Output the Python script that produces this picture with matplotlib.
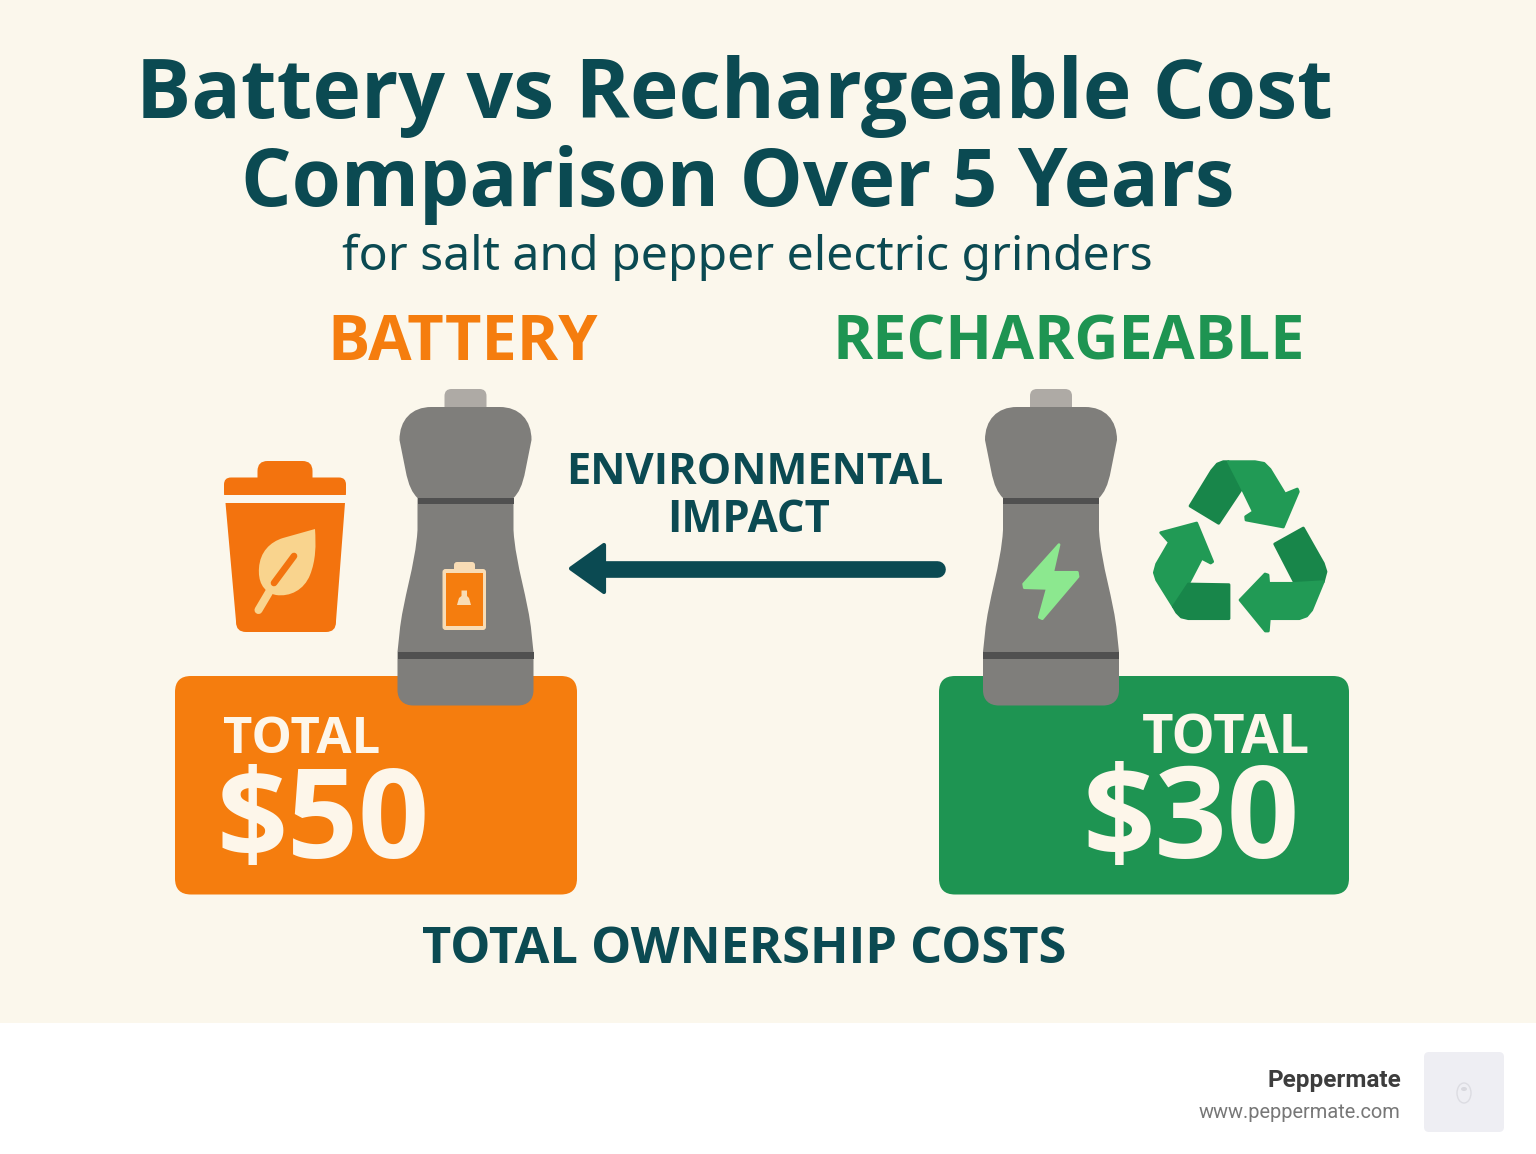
import matplotlib
matplotlib.use("Agg")
import matplotlib.pyplot as plt
from matplotlib.patches import FancyBboxPatch, Polygon, PathPatch, Rectangle, Ellipse
from matplotlib.path import Path

# ---- chart content ----
title_lines = ["Battery vs Rechargeable Cost", "Comparison Over 5 Years"]
subtitle = "for salt and pepper electric grinders"
categories = ["BATTERY", "RECHARGEABLE"]
totals = [50, 30]
arrow_label = ["ENVIRONMENTAL", "IMPACT"]
footer_label = "TOTAL OWNERSHIP COSTS"
brand = "Peppermate"
url = "www.peppermate.com"

# ---- colours ----
BG = "#fbf7ec"; TEAL = "#0b4a52"; ORANGE = "#f57d0e"; ORANGE2 = "#f3730e"
GREEN = "#1e9452"; GLIGHT = "#219a55"; GDARK = "#18864a"
BODY = "#7f7e7b"; BAND = "#505050"; CAP = "#aeaaa5"; CREAM = "#f9d48e"

W, H = 1536, 1154
fig = plt.figure(figsize=(W / 100, H / 100), dpi=100, facecolor="white")
ax = fig.add_axes([0, 0, 1, 1])
ax.set_xlim(0, W); ax.set_ylim(H, 0); ax.axis("off")
renderer = fig.canvas.get_renderer()


def fit(s, x0, x1, base, color, weight="bold", family="Open Sans", z=10):
    t = ax.text(x0, base, s, color=color, fontweight=weight, family=family,
                fontsize=40, va="baseline", ha="left", zorder=z)
    w = t.get_window_extent(renderer).width
    t.set_fontsize(40 * (x1 - x0) / w)
    return t


def rrect(x0, y0, x1, y1, r, color, z=1):
    p = FancyBboxPatch((x0, y0), x1 - x0, y1 - y0, boxstyle=f"round,pad=0,rounding_size={r}",
                       fc=color, ec="none", zorder=z)
    ax.add_patch(p)


def zpoly(pts, ox, oy, color, z=4, lw=2.0):
    xy = [(ox + a / 3, oy + b / 3) for a, b in pts]
    ax.add_patch(Polygon(xy, closed=True, fc=color, ec=color, lw=lw, joinstyle="round", zorder=z))


def bottle(c):
    rrect(c - 21, 389, c + 21, 415, 7, CAP, 2)
    L, C = Path.LINETO, Path.CURVE4
    right = [((34, 407), Path.MOVETO),
             ((54, 407), C), ((66, 420), C), ((66, 440), C),
             ((60, 470), L),
             ((57, 486), C), ((53, 493), C), ((48, 498), C),
             ((48, 530), L),
             ((50, 565), C), ((63, 600), C), ((66, 633), C),
             ((68, 652), L), ((68, 690), L),
             ((68, 700), C), ((62, 705.5), C), ((52, 705.5), C)]
    left = [((-52, 705.5), L),
            ((-62, 705.5), C), ((-68, 700), C), ((-68, 690), C),
            ((-68, 652), L), ((-66, 633), L),
            ((-63, 600), C), ((-50, 565), C), ((-48, 530), C),
            ((-48, 498), L),
            ((-53, 493), C), ((-57, 486), C), ((-60, 470), C),
            ((-66, 440), L),
            ((-66, 420), C), ((-54, 407), C), ((-34, 407), C),
            ((34, 407), Path.CLOSEPOLY)]
    seq = right + left
    verts = [(c + p[0], p[1]) for p, _ in seq]
    ax.add_patch(PathPatch(Path(verts, [k for _, k in seq]), fc=BODY, ec="none", zorder=3))
    ax.add_patch(Rectangle((c - 48, 498), 96, 5.5, fc=BAND, ec="none", zorder=4))
    ax.add_patch(Rectangle((c - 68, 652), 136, 6.5, fc=BAND, ec="none", zorder=4))


# backgrounds
ax.add_patch(Rectangle((0, 0), W, 1023, fc=BG, ec="none", zorder=0))
rrect(175, 676, 577, 894.5, 16, ORANGE)
rrect(939, 676, 1349, 894.5, 16, GREEN)

# titles
fit(title_lines[0], 136, 1332, 118, TEAL)
fit(title_lines[1], 241, 1234, 206, TEAL)
fit(subtitle, 341.5, 1151, 270, TEAL, weight="normal", family="Noto Sans")
fit(categories[0], 327, 597, 360, ORANGE)
fit(categories[1], 833, 1305, 360, GREEN)
fit(arrow_label[0], 566, 943, 484, TEAL)
fit(arrow_label[1], 667, 830, 532, TEAL)
fit("TOTAL", 223, 380, 753, "#fdf6ea")
fit(f"${totals[0]}", 217, 430, 858, "#fdf6ea")
fit("TOTAL", 1142, 1310, 753, "#fdf6ea")
fit(f"${totals[1]}", 1082, 1299, 858, "#fdf6ea")
fit(footer_label, 421.5, 1066, 963, TEAL)
fit(brand, 1267.5, 1400.5, 1087, "#3d3d3d", family="Roboto")
fit(url, 1199, 1401.5, 1118, "#777777", weight="normal", family="Roboto")

# grinders
bottle(465.5)
bottle(1051)

# trash bin
rrect(224, 477.5, 346, 500, 7, ORANGE2, 2)
ax.add_patch(Rectangle((224, 495), 122, 8, fc=BG, ec="none", zorder=3))
rrect(257.5, 461, 312.5, 490, 10, ORANGE2, 2)
ax.add_patch(Polygon([(225.5, 503), (345, 503), (336, 621), (236, 621)], fc=ORANGE2, ec="none", zorder=2))
rrect(236, 600, 336, 632, 10, ORANGE2, 2)

# leaf
L, C = Path.LINETO, Path.CURVE4
leaf = [((315, 529), Path.MOVETO),
        ((316, 545), C), ((316, 560), C), ((310, 575), C),
        ((304, 590), C), ((290, 597), C), ((276, 595), C),
        ((262, 592), C), ((258, 580), C), ((259, 568), C),
        ((260, 552), C), ((270, 542), C), ((283, 538), C),
        ((315, 529), L), ((315, 529), Path.CLOSEPOLY)]
ax.add_patch(PathPatch(Path([p for p, _ in leaf], [k for _, k in leaf]), fc=CREAM, ec="none", zorder=4))
ax.plot([271.5, 258.5], [588, 610], color=CREAM, lw=5.8, solid_capstyle="round", zorder=4)
ax.plot([294, 274], [556, 583], color=ORANGE2, lw=4.8, solid_capstyle="round", zorder=5)

# battery icon
rrect(454, 562, 475, 575, 3, "#f8dcb5", 4)
rrect(442.5, 569, 486, 630, 3, "#f8dcb5", 5)
ax.add_patch(Rectangle((446, 573), 37, 53, fc=ORANGE, ec="none", zorder=6))
ax.add_patch(Polygon([(457, 605), (459, 598), (461.5, 596), (461.5, 590.5), (467, 590.5), (467, 596),
                      (469, 598), (471, 605)], fc="#f8dcb5", ec="none", zorder=7))

# bolt
zpoly([(297, 494), (278, 577), (352, 577), (354, 590), (247, 716), (238, 712), (262, 625),
       (193, 623), (191, 612)], 960, 380, "#8ce88f", z=6)

# recycling symbol
zpoly([(690, 378), (755, 272), (772, 252), (790, 245), (805, 245), (846, 325), (776, 430)], 960, 380, GDARK)
zpoly([(805, 245), (885, 245), (912, 250), (930, 268), (975, 342), (1012, 327), (1015, 335), (970, 441),
       (858, 420), (857, 410), (880, 395), (846, 325)], 960, 380, GLIGHT)
zpoly([(602, 458), (710, 429), (758, 545), (752, 549), (725, 535), (685, 612), (640, 680),
       (590, 600), (583, 578), (590, 552), (628, 487)], 960, 380, GLIGHT)
zpoly([(685, 612), (807, 614), (807, 716), (685, 716), (664, 711), (650, 697), (640, 680)], 960, 380, GDARK)
zpoly([(944, 492), (1030, 444), (1090, 550), (1098, 575), (1090, 605), (1005, 610)], 960, 380, GDARK)
zpoly([(1090, 605), (1055, 690), (1040, 708), (1018, 716), (928, 716), (925, 753), (916, 753), (840, 660),
       (915, 582), (924, 585), (926, 610), (1005, 610)], 960, 380, GLIGHT)

# arrow
ax.plot([600, 937], [568.5, 568.5], color=TEAL, lw=12, solid_capstyle="round", zorder=3)
ax.add_patch(Polygon([(571, 568.5), (604, 545), (604, 592)], fc=TEAL, ec=TEAL, lw=3, joinstyle="round", zorder=3))

# footer logo
rrect(1424, 1052, 1504, 1132, 5, "#eeeef3", 1)
ax.add_patch(Ellipse((1464, 1093), 14, 20, fc="none", ec="#dcdce2", lw=1, zorder=2))
ax.add_patch(Ellipse((1464, 1089), 6, 4, fc="#d8d8de", ec="none", zorder=2))

fig.savefig("out.png", dpi=100, facecolor="white")
